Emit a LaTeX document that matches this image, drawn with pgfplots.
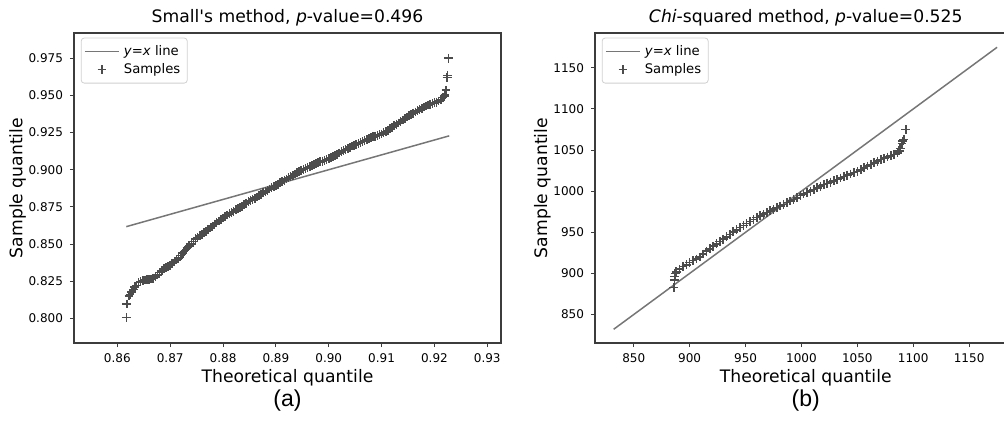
\documentclass[border=0pt]{standalone}
\usepackage{fontspec}
\setmainfont{DejaVu Sans}[Ligatures=TeXOff]
\newfontfamily\capfont{Liberation Sans}
\usepackage{pgfplots}
\pgfplotsset{compat=1.18}
\definecolor{lnc}{HTML}{767676}
\definecolor{mkc}{HTML}{4C4C4C}
\definecolor{spc}{HTML}{3C3C3C}

\pgfplotsset{qq/.style={
  scale only axis, clip=false,
  axis line style={spc,line width=0.6pt},
  tick style={spc,line width=0.5pt},
  tick align=outside,
  major tick length=2pt,
  xtick pos=bottom, ytick pos=left,
  /pgf/number format/assume math mode=true,
  tick label style={font=\fontsize{6}{7}\selectfont},
  label style={font=\fontsize{8.6}{10}\selectfont},
  every axis title shift=0pt,
  title style={font=\fontsize{8.6}{10}\selectfont,at={(axis description cs:0.5,1.033)},anchor=base},
  xlabel style={at={(axis description cs:0.5,-0.129)},anchor=base},
  legend style={at={(0.016,0.985)},anchor=north west,draw=black!18,rounded corners=1.5pt,
    font=\fontsize{6.6}{8}\selectfont,row sep=-1.5pt,inner sep=1.5pt},
  legend cell align=left,
}}

\begin{document}
\begin{tikzpicture}
\useasboundingbox (0,0) rectangle (502pt,212pt);
\clip (0,0) rectangle (502pt,212pt);

\begin{axis}[qq,at={(37pt,40.5pt)},anchor=south west,width=213.5pt,height=155pt,
  xmin=0.8518,xmax=0.9326,ymin=0.7834,ymax=0.992,
  xtick={0.86,0.87,0.88,0.89,0.90,0.91,0.92,0.93},
  ytick={0.800,0.825,0.850,0.875,0.900,0.925,0.950,0.975},
  xticklabel style={/pgf/number format/.cd,fixed,fixed zerofill,precision=2},
  yticklabel style={/pgf/number format/.cd,fixed,fixed zerofill,precision=3},
  title={Small's method, \textit{p}-value=0.496},
  xlabel={Theoretical quantile},ylabel={Sample quantile},
  ylabel style={at={(axis description cs:-0.132,0.5)},anchor=center}]
\addplot[lnc,line width=0.75pt] coordinates {(0.8617,0.8617) (0.9228,0.9228)};
\addlegendentry{\textit{y}=\textit{x} line}
\addplot[only marks,mark=+,mark size=2.2pt,mkc,mark options={line width=0.8pt}] table {
x y
0.8617 0.8005
0.8618 0.8097
0.8622 0.8150
0.8624 0.8160
0.8627 0.8178
0.8630 0.8195
0.8633 0.8210
0.8636 0.8222
0.8640 0.8240
0.8644 0.8247
0.8648 0.8252
0.8652 0.8258
0.8656 0.8260
0.8660 0.8262
0.8664 0.8265
0.8668 0.8270
0.8672 0.8280
0.8676 0.8292
0.8680 0.8308
0.8684 0.8320
0.8688 0.8333
0.8692 0.8343
0.8696 0.8350
0.8700 0.8358
0.8704 0.8368
0.8708 0.8380
0.8712 0.8393
0.8716 0.8407
0.8720 0.8422
0.8724 0.8438
0.8728 0.8456
0.8732 0.8474
0.8736 0.8488
0.8740 0.8502
0.8744 0.8518
0.8748 0.8535
0.8752 0.8545
0.8756 0.8555
0.8760 0.8565
0.8764 0.8575
0.8768 0.8585
0.8772 0.8596
0.8776 0.8608
0.8780 0.8621
0.8784 0.8634
0.8788 0.8645
0.8792 0.8655
0.8796 0.8665
0.8800 0.8675
0.8804 0.8685
0.8808 0.8695
0.8812 0.8704
0.8816 0.8711
0.8820 0.8720
0.8824 0.8730
0.8828 0.8740
0.8832 0.8746
0.8836 0.8754
0.8840 0.8765
0.8844 0.8775
0.8848 0.8785
0.8852 0.8794
0.8856 0.8801
0.8860 0.8809
0.8864 0.8816
0.8868 0.8824
0.8872 0.8835
0.8876 0.8845
0.8880 0.8851
0.8884 0.8859
0.8888 0.8870
0.8892 0.8879
0.8896 0.8886
0.8900 0.8894
0.8904 0.8903
0.8908 0.8912
0.8912 0.8921
0.8916 0.8929
0.8920 0.8938
0.8924 0.8946
0.8928 0.8954
0.8932 0.8962
0.8936 0.8971
0.8940 0.8979
0.8944 0.8986
0.8948 0.8994
0.8952 0.9001
0.8956 0.9008
0.8960 0.9015
0.8964 0.9021
0.8968 0.9028
0.8972 0.9035
0.8976 0.9042
0.8980 0.9048
0.8984 0.9053
0.8988 0.9058
0.8992 0.9063
0.8996 0.9068
0.9000 0.9075
0.9004 0.9081
0.9008 0.9088
0.9012 0.9096
0.9016 0.9104
0.9020 0.9112
0.9024 0.9121
0.9028 0.9129
0.9032 0.9136
0.9036 0.9144
0.9040 0.9151
0.9044 0.9159
0.9048 0.9165
0.9052 0.9171
0.9056 0.9177
0.9060 0.9183
0.9064 0.9189
0.9068 0.9195
0.9072 0.9202
0.9076 0.9208
0.9080 0.9215
0.9084 0.9221
0.9088 0.9226
0.9092 0.9230
0.9096 0.9235
0.9100 0.9241
0.9104 0.9248
0.9108 0.9256
0.9112 0.9265
0.9116 0.9275
0.9120 0.9285
0.9124 0.9295
0.9128 0.9305
0.9132 0.9315
0.9136 0.9325
0.9140 0.9335
0.9144 0.9345
0.9148 0.9355
0.9152 0.9364
0.9156 0.9372
0.9160 0.9381
0.9164 0.9389
0.9168 0.9396
0.9172 0.9404
0.9176 0.9414
0.9180 0.9422
0.9184 0.9429
0.9188 0.9435
0.9192 0.9440
0.9196 0.9445
0.9200 0.9450
0.9204 0.9455
0.9208 0.9463
0.9212 0.9472
0.9216 0.9485
0.9219 0.9495
0.9220 0.9505
0.9222 0.9535
0.9224 0.9620
0.9225 0.9635
0.9227 0.9750
};
\addlegendentry{Samples}
\node[font=\capfont\fontsize{11.5}{13}\selectfont,anchor=base] at (axis description cs:0.5,-0.206) {(a)};
\end{axis}

\begin{axis}[qq,at={(297.5pt,40.5pt)},anchor=south west,width=210.75pt,height=155pt,
  xmin=815.3,xmax=1192.4,ymin=815.3,ymax=1192.4,
  xtick={850,900,950,1000,1050,1100,1150},
  ytick={850,900,950,1000,1050,1100,1150},
  /pgf/number format/set thousands separator={},
  title={\textit{Chi}-squared method, \textit{p}-value=0.525},
  xlabel={Theoretical quantile},ylabel={Sample quantile},
  ylabel style={at={(axis description cs:-0.1246,0.5)},anchor=center}]
\addplot[lnc,line width=0.75pt] coordinates {(832,832) (1175,1175)};
\addlegendentry{\textit{y}=\textit{x} line}
\addplot[only marks,mark=+,mark size=2.2pt,mkc,mark options={line width=0.8pt}] table {
x y
885.7 883
886.3 892
886.6 896
887 900
888 902
891 905
894 908.5
897 910.5
900 913
903 915.5
906 917.5
909 920
912 923.5
915 927
918 930
921 933
924 936
927 939
930 941.5
933 944.5
936 947.5
939 950.5
942 953
945 956
948 958
951 960.5
954 963
957 965.5
960 968
963 970
966 972
969 974
972 976
975 978
978 980
981 982
984 984
987 986
990 988
993 990
996 992
999 994.5
1002 996.5
1005 998.5
1008 1000
1011 1002
1014 1004
1017 1006
1020 1008
1023 1009.5
1026 1011
1029 1012.5
1032 1014
1035 1016
1038 1018
1041 1019.5
1044 1021
1047 1022.5
1050 1024
1053 1026
1056 1028.5
1059 1030.5
1062 1032.5
1065 1034.5
1068 1036.5
1071 1038.5
1074 1040
1077 1041.5
1080 1043
1083 1044.5
1086 1046.5
1087.5 1049
1088.3 1052
1090 1058
1090.7 1061
1091.5 1063
1093.4 1075
};
\addlegendentry{Samples}
\node[font=\capfont\fontsize{11.5}{13}\selectfont,anchor=base] at (axis description cs:0.5,-0.206) {(b)};
\end{axis}
\end{tikzpicture}
\end{document}
